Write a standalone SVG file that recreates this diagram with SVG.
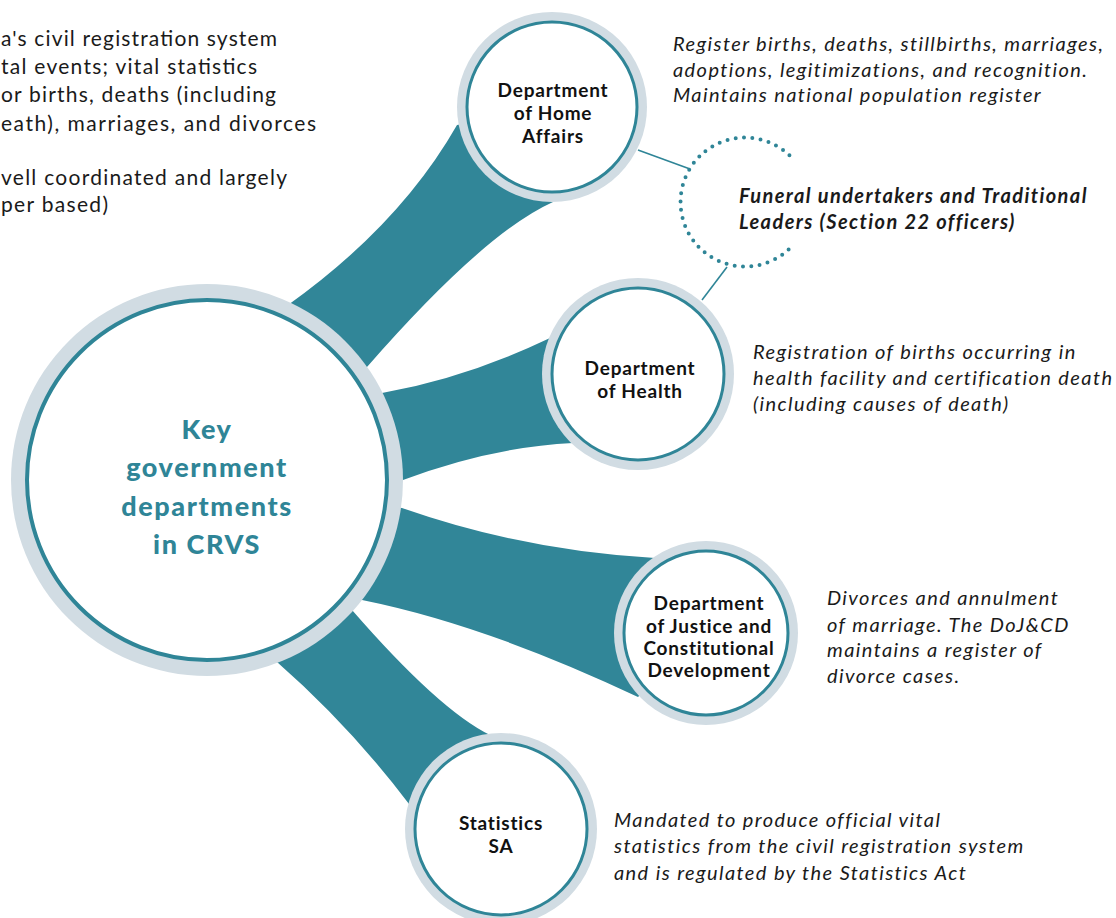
<svg xmlns="http://www.w3.org/2000/svg" width="1116" height="918" viewBox="0 0 1116 918">
<style>
.band{fill:#318698;stroke:none}
.ring{fill:#d1dce3}
.inner{fill:#ffffff;stroke:#2f8597;stroke-width:3}
.lbl{font-family:Lato,"Open Sans",sans-serif;font-weight:700;font-size:19px;letter-spacing:0.8px;fill:#111;text-anchor:middle}
.desc{font-family:Lato,"Open Sans",sans-serif;font-style:italic;font-size:20px;letter-spacing:1.4px;fill:#1a1a1a}
.intro{font-family:Lato,"Open Sans",sans-serif;font-size:21px;fill:#1a1a1a}
.title{font-family:Lato,"Open Sans",sans-serif;font-weight:900;font-size:27px;letter-spacing:1.6px;fill:#2f8597;text-anchor:middle}
.conn{fill:none;stroke:#2f8597;stroke-width:1.6}
.dots{fill:none;stroke:#2f8597;stroke-width:4;stroke-linecap:round;stroke-dasharray:0 8.3}
</style>
<rect width="1116" height="918" fill="#ffffff"/>

<g id="intro-text">
<text class="intro" x="1" y="46" textLength="276" lengthAdjust="spacing">a's civil registration system</text>
<text class="intro" x="1" y="74" textLength="256" lengthAdjust="spacing">tal events; vital statistics</text>
<text class="intro" x="1" y="102" textLength="275" lengthAdjust="spacing">or births, deaths (including</text>
<text class="intro" x="1" y="131" textLength="315" lengthAdjust="spacing">eath), marriages, and divorces</text>
<text class="intro" x="1" y="185" textLength="286" lengthAdjust="spacing">vell coordinated and largely</text>
<text class="intro" x="1" y="212" textLength="107" lengthAdjust="spacing">per based)</text>
</g>

<g id="connectors">
<path class="band" d="M 288,305 Q 400,225 457,125 L 552,107 L 553,202 Q 484,233 367,367 L 207,480 Z"/>
<path class="band" d="M 382,393 Q 466,378 550,338 L 638,374 L 573,443 Q 491,447 403,480 L 207,480 Z"/>
<path class="band" d="M 402,508 Q 525,551 655,558 L 706,633 L 638,697 Q 486,625 362,600 L 207,480 Z"/>
<path class="band" d="M 352,610 Q 439,710 490,735 L 501,829 L 409,804 Q 350,726 277,662 L 207,480 Z"/>
<line class="conn" x1="638" y1="150" x2="690" y2="169"/>
<line class="conn" x1="727" y1="267" x2="702" y2="300"/>
</g>

<g id="node-center">
<circle class="ring" cx="207" cy="480" r="196"/>
<circle class="inner" cx="207" cy="480" r="180" style="stroke-width:4"/>
<text class="title" x="207" y="439">Key</text>
<text class="title" x="207" y="477">government</text>
<text class="title" x="207" y="516">departments</text>
<text class="title" x="207" y="554">in CRVS</text>
</g>

<g id="node-home-affairs">
<circle class="ring" cx="552" cy="107" r="95"/>
<circle class="inner" cx="552" cy="107" r="85"/>
<text class="lbl" x="553" y="97">Department</text>
<text class="lbl" x="553" y="120">of Home</text>
<text class="lbl" x="553" y="143">Affairs</text>
</g>

<g id="node-health">
<circle class="ring" cx="638" cy="374" r="96"/>
<circle class="inner" cx="638" cy="374" r="86"/>
<text class="lbl" x="640" y="375">Department</text>
<text class="lbl" x="640" y="398">of Health</text>
</g>

<g id="node-justice">
<circle class="ring" cx="706" cy="633" r="92"/>
<circle class="inner" cx="706" cy="633" r="82"/>
<text class="lbl" x="709" y="610">Department</text>
<text class="lbl" x="709" y="633">of Justice and</text>
<text class="lbl" x="709" y="655">Constitutional</text>
<text class="lbl" x="709" y="677">Development</text>
</g>

<g id="node-stats">
<circle class="ring" cx="501" cy="829" r="96"/>
<circle class="inner" cx="501" cy="829" r="86"/>
<text class="lbl" x="501" y="830">Statistics</text>
<text class="lbl" x="501" y="853">SA</text>
</g>

<g id="node-funeral">
<path class="dots" d="M 788.6,249.6 A 64.5 64.5 0 1 1 794.4,160.5"/>
<text class="desc" x="739" y="203" style="font-weight:700">Funeral undertakers and Traditional</text>
<text class="desc" x="739" y="229" style="font-weight:700">Leaders (Section 22 officers)</text>
</g>

<g id="desc-home-affairs">
<text class="desc" x="673" y="51">Register births, deaths, stillbirths, marriages,</text>
<text class="desc" x="673" y="77">adoptions, legitimizations, and recognition.</text>
<text class="desc" x="673" y="102">Maintains national population register</text>
</g>

<g id="desc-health">
<text class="desc" x="753" y="359">Registration of births occurring in</text>
<text class="desc" x="753" y="385">health facility and certification death</text>
<text class="desc" x="753" y="411">(including causes of death)</text>
</g>

<g id="desc-justice">
<text class="desc" x="827" y="605">Divorces and annulment</text>
<text class="desc" x="827" y="632">of marriage. The DoJ&amp;CD</text>
<text class="desc" x="827" y="657">maintains a register of</text>
<text class="desc" x="827" y="683">divorce cases.</text>
</g>

<g id="desc-stats">
<text class="desc" x="614" y="827">Mandated to produce official vital</text>
<text class="desc" x="614" y="853">statistics from the civil registration system</text>
<text class="desc" x="614" y="880">and is regulated by the Statistics Act</text>
</g>
</svg>
